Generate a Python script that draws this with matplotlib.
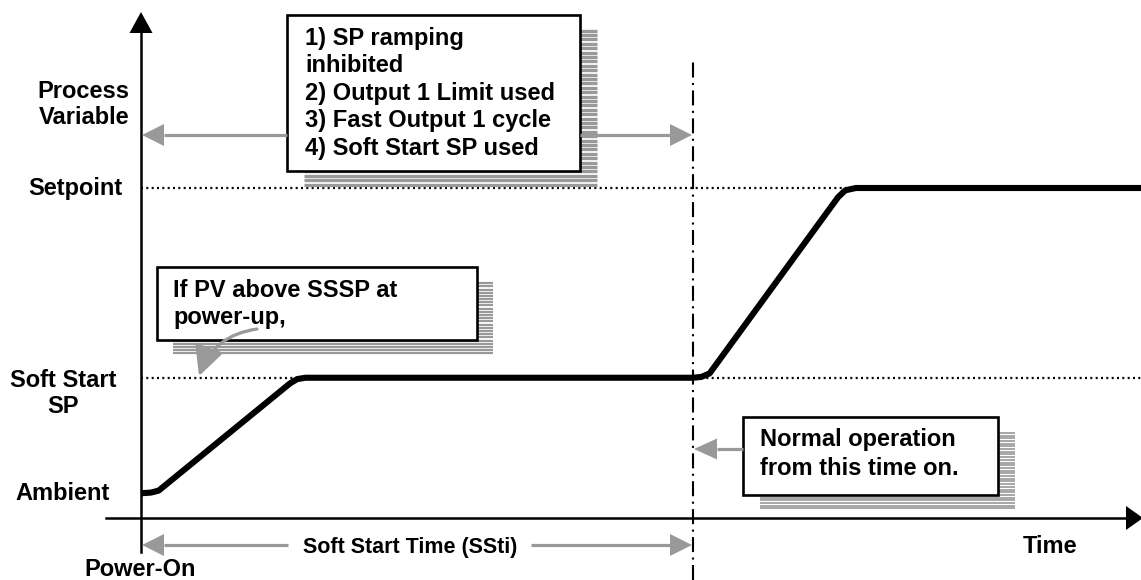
import matplotlib
matplotlib.use("Agg")
import matplotlib.pyplot as plt
from matplotlib.patches import Polygon, Rectangle, FancyArrowPatch
import numpy as np

W, H = 1141, 580

# process levels (arbitrary units) and soft start time
AMBIENT = 15
SSSP = 85
SETPOINT = 200
SSTI = 100

# PV response after power-on
time = [0, 1.8, 3.2, 27.0, 28.3, 29.8, 100, 101.5, 103.0, 126.3, 127.6, 129.5, 181.2]
pv = [15, 15.4, 16.6, 81.6, 84.2, 85, 85, 85.5, 87.6, 194.5, 198.6, 200, 200]

left_labels = ["Process", "Variable", "Setpoint", "Soft Start", "SP", "Ambient"]
box1_lines = ["1) SP ramping", "inhibited", "2) Output 1 Limit used",
              "3) Fast Output 1 cycle", "4) Soft Start SP used"]
box2_lines = ["If PV above SSSP at", "power-up,"]
box3_lines = ["Normal operation", "from this time on."]

GREY = "#999999"
FONT = dict(family="Liberation Sans", weight="bold", size=17, color="black")

fig = plt.figure(figsize=(W / 100, H / 100), dpi=100)

# data axes: t=0 at px 141, 5.52 px per unit; pv=0 at px 518, 1.65 px per unit
ax = fig.add_axes([0, 0, 1, 1])
ax.set_xlim(-141 / 5.52, (W - 141) / 5.52)
ax.set_ylim((518 - H) / 1.65, 518 / 1.65)
ax.axis("off")

# overlay in pixel coordinates for the drawing furniture
ov = fig.add_axes([0, 0, 1, 1])
ov.set_xlim(0, W)
ov.set_ylim(H, 0)
ov.axis("off")
ov.patch.set_alpha(0)

x_end = ax.get_xlim()[1]
ax.hlines([SETPOINT, SSSP], 0, x_end, colors="black", lw=1.6,
          linestyles=[(0, (0.9, 1.5))], zorder=2)
ax.vlines(SSTI, ax.get_ylim()[0], (518 - 61) / 1.65, colors="black", lw=1.5,
          linestyles=[(0, (7.2, 2.6, 1.0, 2.6))], zorder=2)
ax.plot(time, pv, color="black", lw=4.4, solid_joinstyle="round",
        solid_capstyle="butt", zorder=6)


def head(x1, y1, dx, dy, length, width, color):
    # triangle with tip at (x1, y1) pointing along (dx, dy)
    n = np.hypot(dx, dy)
    ux, uy = dx / n, dy / n
    bx, by = x1 - ux * length, y1 - uy * length
    px, py = -uy * width / 2, ux * width / 2
    ov.add_patch(Polygon([(x1, y1), (bx + px, by + py), (bx - px, by - py)],
                         closed=True, color=color, lw=0, zorder=7))
    return bx, by


def arrow(x0, y0, x1, y1, color=GREY, lw=2.3, length=22, width=22):
    bx, by = head(x1, y1, x1 - x0, y1 - y0, length, width, color)
    ov.plot([x0, bx], [y0, by], color=color, lw=lw, solid_capstyle="butt", zorder=7)


def shadow_box(x0, y0, x1, y1, dx, dy, period, stripe):
    yy = np.arange(y0 + dy, y1 + dy, period)
    ov.hlines(yy + stripe / 2, x0 + dx, x1 + dx, colors=GREY,
              lw=stripe * 0.72, zorder=3)
    ov.add_patch(Rectangle((x0, y0), x1 - x0, y1 - y0, facecolor="white",
                           edgecolor="black", lw=1.9, zorder=4))


# axes with arrowheads
ov.plot([141, 141], [552, 30], color="black", lw=1.8, zorder=5)
head(141, 12, 0, -1, 21, 23, "black")
ov.plot([106, 1128], [518, 518], color="black", lw=1.8, zorder=5)
head(1143, 518, 1, 0, 17, 24, "black")

# left labels
ov.text(129, 97.5, left_labels[0], ha="right", va="baseline", **FONT)
ov.text(129, 124, left_labels[1], ha="right", va="baseline", **FONT)
ov.text(75, 195, left_labels[2], ha="center", va="baseline", **FONT)
ov.text(63, 387, left_labels[3], ha="center", va="baseline", **FONT)
ov.text(63, 413, left_labels[4], ha="center", va="baseline", **FONT)
ov.text(63, 500, left_labels[5], ha="center", va="baseline", **FONT)
ov.text(140, 576, "Power-On", ha="center", va="baseline", **FONT)
ov.text(1050, 553, "Time", ha="center", va="baseline", **FONT)

# box 1
shadow_box(287, 15, 580, 171, 17, 14, 4.4, 3.3)
for i, line in enumerate(box1_lines):
    ov.text(305, 45 + i * 27.5, line, ha="left", va="baseline", zorder=8, **FONT)
arrow(287, 135, 142, 135)
arrow(580, 135, 692, 135)

# box 2
shadow_box(157, 267, 477, 340, 16, 15, 3.2, 2.2)
for i, line in enumerate(box2_lines):
    ov.text(173, 297 + i * 27, line, ha="left", va="baseline", zorder=8, **FONT)
ov.add_patch(FancyArrowPatch((257, 329), (199, 376), connectionstyle="arc3,rad=0.3",
                             arrowstyle="-|>,head_length=1.8,head_width=0.9",
                             mutation_scale=10, shrinkA=0, shrinkB=0,
                             color=GREY, lw=2.3, zorder=8))

# box 3
shadow_box(743, 417, 998, 495, 17, 15, 2.7, 1.7)
for i, line in enumerate(box3_lines):
    ov.text(760, 446 + i * 29, line, ha="left", va="baseline", zorder=8, **FONT)
arrow(743, 449, 694, 449, length=23, width=21)

# soft start time span
ov.text(410, 553, "Soft Start Time (SSti)", ha="center", va="baseline",
        **{**FONT, "size": 15.5})
arrow(288, 545, 142, 545)
arrow(531, 545, 692, 545)

fig.savefig("out.png", dpi=100)
